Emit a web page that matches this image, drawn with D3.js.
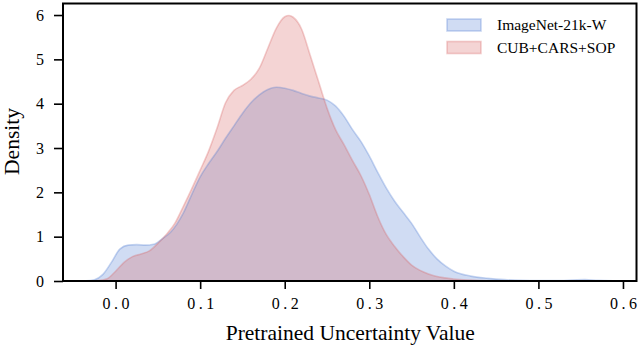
<!DOCTYPE html>
<html>
<head>
<meta charset="utf-8">
<script src="https://cdn.jsdelivr.net/npm/d3@7"></script>
<style>
  body { margin: 0; background: #fff; }
  svg text { font-family: "Liberation Serif", "Times New Roman", serif; fill: #000; }
</style>
</head>
<body>
<div id="chart"></div>
<script>
// density curves
const seriesNames = ["ImageNet-21k-W", "CUB+CARS+SOP"];

const imagenetX = [-0.05, -0.035, -0.025, -0.015, -0.005, 0.005, 0.015, 0.025, 0.035, 0.045,
  0.055, 0.065, 0.08, 0.09, 0.10, 0.11, 0.12, 0.13, 0.14, 0.15, 0.16, 0.17, 0.18, 0.19, 0.20,
  0.21, 0.22, 0.23, 0.24, 0.25, 0.26, 0.27, 0.28, 0.29, 0.30, 0.31, 0.32, 0.33, 0.34, 0.35,
  0.36, 0.37, 0.38, 0.39, 0.40, 0.42, 0.44, 0.46, 0.48, 0.50, 0.52, 0.54, 0.555, 0.57, 0.59, 0.61];
const imagenetY = [0, 0.005, 0.03, 0.15, 0.42, 0.72, 0.81, 0.82, 0.81, 0.83,
  0.95, 1.1, 1.53, 1.95, 2.35, 2.65, 2.92, 3.22, 3.5, 3.78, 4.02, 4.2, 4.32, 4.37, 4.35,
  4.3, 4.23, 4.17, 4.13, 4.08, 3.95, 3.72, 3.42, 3.15, 2.82, 2.45, 2.1, 1.8, 1.55, 1.3,
  1.0, 0.72, 0.5, 0.34, 0.22, 0.11, 0.06, 0.03, 0.015, 0.01, 0.01, 0.02, 0.03, 0.015, 0.005, 0];

const cubX = [-0.03, -0.02, -0.01, 0.0, 0.01, 0.02, 0.03, 0.04, 0.05, 0.06, 0.07, 0.08, 0.09,
  0.10, 0.11, 0.12, 0.13, 0.14, 0.15, 0.16, 0.17, 0.18, 0.19, 0.20, 0.205, 0.21, 0.22, 0.23,
  0.24, 0.25, 0.26, 0.27, 0.28, 0.29, 0.30, 0.31, 0.32, 0.33, 0.34, 0.35, 0.36, 0.37, 0.38,
  0.39, 0.40, 0.42, 0.44, 0.46];
const cubY = [0, 0.01, 0.05, 0.22, 0.42, 0.55, 0.61, 0.68, 0.85, 1.05, 1.3, 1.68, 2.08,
  2.5, 2.93, 3.45, 4.02, 4.3, 4.41, 4.55, 4.8, 5.25, 5.7, 5.96, 5.99, 5.95, 5.68, 5.1,
  4.5, 3.9, 3.42, 3.08, 2.72, 2.38, 1.95, 1.45, 1.05, 0.78, 0.55, 0.36, 0.24, 0.16, 0.1,
  0.07, 0.045, 0.02, 0.005, 0];

const xTicks = [0.0, 0.1, 0.2, 0.3, 0.4, 0.5, 0.6];
const yTicks = [0, 1, 2, 3, 4, 5, 6];

const width = 640, height = 350;
const margin = {top: 3.5, right: 3.5, bottom: 69, left: 63};

const svg = d3.select("#chart")
  .append("svg")
  .attr("width", width)
  .attr("height", height);

const x = d3.scaleLinear()
  .domain([-0.0622, 0.616])
  .range([margin.left, width - margin.right]);

const y = d3.scaleLinear()
  .domain([0, 6.26])
  .range([height - margin.bottom, margin.top]);

const series = [
  {name: seriesNames[0], fill: "rgba(72,120,208,0.26)", stroke: "rgba(72,120,208,0.3)",
   pts: imagenetX.map((v, i) => [v, imagenetY[i]])},
  {name: seriesNames[1], fill: "rgba(214,95,95,0.27)", stroke: "rgba(214,95,95,0.3)",
   pts: cubX.map((v, i) => [v, cubY[i]])}
];

const area = d3.area()
  .x(d => x(d[0]))
  .y0(y(0))
  .y1(d => y(d[1]))
  .curve(d3.curveMonotoneX);

const line = d3.line()
  .x(d => x(d[0]))
  .y(d => y(d[1]))
  .curve(d3.curveMonotoneX);

svg.selectAll("path.kde")
  .data(series)
  .join("path")
  .attr("class", "kde")
  .attr("fill", d => d.fill)
  .attr("d", d => area(d.pts));

svg.selectAll("path.edge")
  .data(series)
  .join("path")
  .attr("class", "edge")
  .attr("fill", "none")
  .attr("stroke", d => d.stroke)
  .attr("stroke-width", 1.6)
  .attr("d", d => line(d.pts));

// axes
const xAxis = svg.append("g")
  .attr("transform", `translate(0,${height - margin.bottom})`)
  .call(d3.axisBottom(x).tickValues(xTicks).tickFormat(d3.format(".1f")).tickSize(8).tickPadding(9));

const yAxis = svg.append("g")
  .attr("transform", `translate(${margin.left},0)`)
  .call(d3.axisLeft(y).tickValues(yTicks).tickFormat(d3.format("d")).tickSize(9).tickPadding(10));

[xAxis, yAxis].forEach(g => {
  g.attr("font-family", null);
  g.select(".domain").remove();
  g.selectAll(".tick line").attr("stroke", "#000").attr("stroke-width", 1.6);
  g.selectAll(".tick text").style("font-size", "16px");
});
xAxis.selectAll(".tick text").style("letter-spacing", "3.5px").attr("dx", "1.75px");

// frame
svg.append("rect")
  .attr("x", margin.left)
  .attr("y", margin.top)
  .attr("width", width - margin.left - margin.right)
  .attr("height", height - margin.top - margin.bottom)
  .attr("fill", "none")
  .attr("stroke", "#000")
  .attr("stroke-width", 2);

// labels
svg.append("text")
  .attr("x", (margin.left + width - margin.right) / 2 + 0.5)
  .attr("y", 340)
  .attr("text-anchor", "middle")
  .style("font-size", "21.5px")
  .text("Pretrained Uncertainty Value");

svg.append("text")
  .attr("transform", "translate(19,141.5) rotate(-90)")
  .attr("text-anchor", "middle")
  .style("font-size", "21.5px")
  .text("Density");

// legend
const legend = svg.append("g");
series.forEach((s, i) => {
  const yy = 19 + i * 22.5;
  legend.append("rect")
    .attr("x", 447)
    .attr("y", yy)
    .attr("width", 34)
    .attr("height", 12)
    .attr("fill", s.fill)
    .attr("stroke", s.stroke)
    .attr("stroke-width", 1.6);
  legend.append("text")
    .attr("x", 497)
    .attr("y", yy + 11)
    .style("font-size", "15.5px")
    .text(s.name);
});
</script>
</body>
</html>
